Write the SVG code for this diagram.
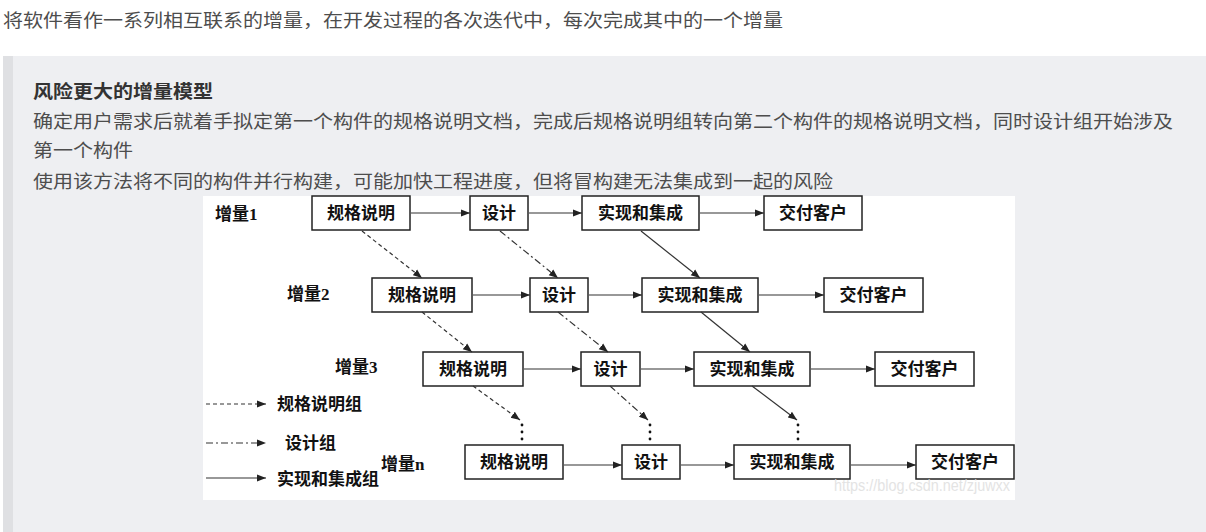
<svg xmlns="http://www.w3.org/2000/svg" width="1206" height="532" viewBox="0 0 1206 532">
<style>
.p{font-family:"Noto Sans CJK SC","Noto Sans",sans-serif;font-size:18px;fill:#4d4d4d}
.t{font-family:"Noto Sans CJK SC","Noto Sans",sans-serif;font-size:18px;font-weight:bold;fill:#333}
.box rect{fill:#fff;stroke:#222;stroke-width:1.5}
.box text,.lbl{font-family:"Liberation Serif","Noto Sans CJK SC",serif;font-size:17px;font-weight:bold;fill:#111;text-anchor:middle}
.lbl{text-anchor:start}
.c line{stroke:#333;stroke-width:1.2;fill:none}
.s{marker-end:url(#ah)}
.d{stroke-dasharray:4 3}
.dd{stroke-dasharray:7 3 2 3}
.dots circle{fill:#111}
</style>
<defs>
<marker id="ah" viewBox="0 0 10 10" refX="10" refY="5" markerWidth="9" markerHeight="9" markerUnits="userSpaceOnUse" orient="auto">
<path d="M0,1 L10,5 L0,9 z" fill="#222"/>
</marker>
</defs>
<rect width="1206" height="532" fill="#fff"/>
<text class="p" x="3" y="27" textLength="780" lengthAdjust="spacingAndGlyphs">将软件看作一系列相互联系的增量，在开发过程的各次迭代中，每次完成其中的一个增量</text>
<rect x="3" y="56" width="1203" height="476" fill="#eeeff2"/>
<rect x="3" y="56" width="10" height="476" fill="#dfe0e3"/>
<text class="t" x="33" y="98" textLength="180" lengthAdjust="spacingAndGlyphs">风险更大的增量模型</text>
<text class="p" x="33" y="128" textLength="1140" lengthAdjust="spacingAndGlyphs">确定用户需求后就着手拟定第一个构件的规格说明文档，完成后规格说明组转向第二个构件的规格说明文档，同时设计组开始涉及</text>
<text class="p" x="33" y="157" textLength="100" lengthAdjust="spacingAndGlyphs">第一个构件</text>
<text class="p" x="33" y="188" textLength="800" lengthAdjust="spacingAndGlyphs">使用该方法将不同的构件并行构建，可能加快工程进度，但将冒构建无法集成到一起的风险</text>
<rect x="203" y="196" width="812" height="304" fill="#fff"/>
<g id="labels">
<text class="lbl" x="215" y="220">增量1</text>
<text class="lbl" x="287" y="300">增量2</text>
<text class="lbl" x="335" y="373">增量3</text>
<text class="lbl" x="381" y="470">增量n</text>
</g>
<g id="r1-spec" class="box"><rect x="312" y="196" width="98" height="34"/><text x="361" y="219">规格说明</text></g>
<g id="r1-design" class="box"><rect x="470" y="196" width="58" height="34"/><text x="499" y="219">设计</text></g>
<g id="r1-impl" class="box"><rect x="582" y="196" width="117" height="34"/><text x="640.5" y="219">实现和集成</text></g>
<g id="r1-deliver" class="box"><rect x="764" y="196" width="98" height="34"/><text x="813" y="219">交付客户</text></g>
<g id="r2-spec" class="box"><rect x="372" y="278" width="100" height="34"/><text x="422" y="301">规格说明</text></g>
<g id="r2-design" class="box"><rect x="530" y="278" width="58" height="34"/><text x="559" y="301">设计</text></g>
<g id="r2-impl" class="box"><rect x="642" y="278" width="116" height="34"/><text x="700" y="301">实现和集成</text></g>
<g id="r2-deliver" class="box"><rect x="824" y="278" width="99" height="34"/><text x="873.5" y="301">交付客户</text></g>
<g id="r3-spec" class="box"><rect x="423" y="352" width="100" height="34"/><text x="473" y="375">规格说明</text></g>
<g id="r3-design" class="box"><rect x="581" y="352" width="59" height="34"/><text x="610.5" y="375">设计</text></g>
<g id="r3-impl" class="box"><rect x="694" y="352" width="116" height="34"/><text x="752" y="375">实现和集成</text></g>
<g id="r3-deliver" class="box"><rect x="875" y="352" width="99" height="34"/><text x="924.5" y="375">交付客户</text></g>
<g id="rn-spec" class="box"><rect x="465" y="445" width="98" height="34"/><text x="514" y="468">规格说明</text></g>
<g id="rn-design" class="box"><rect x="622" y="445" width="58" height="34"/><text x="651" y="468">设计</text></g>
<g id="rn-impl" class="box"><rect x="734" y="445" width="116" height="34"/><text x="792" y="468">实现和集成</text></g>
<g id="rn-deliver" class="box"><rect x="916" y="445" width="98" height="34"/><text x="965" y="468">交付客户</text></g>
<g id="connectors" class="c">
<line class="s" x1="411" y1="213" x2="470" y2="213"/>
<line class="s" x1="529" y1="213" x2="582" y2="213"/>
<line class="s" x1="700" y1="213" x2="764" y2="213"/>
<line class="s" x1="473" y1="295" x2="530" y2="295"/>
<line class="s" x1="589" y1="295" x2="642" y2="295"/>
<line class="s" x1="759" y1="295" x2="824" y2="295"/>
<line class="s" x1="524" y1="369" x2="581" y2="369"/>
<line class="s" x1="641" y1="369" x2="694" y2="369"/>
<line class="s" x1="811" y1="369" x2="875" y2="369"/>
<line class="s" x1="564" y1="465" x2="622" y2="465"/>
<line class="s" x1="681" y1="465" x2="734" y2="465"/>
<line class="s" x1="851" y1="465" x2="916" y2="465"/>
<line class="s d" x1="362" y1="231" x2="422" y2="278"/>
<line class="s dd" x1="500" y1="231" x2="558" y2="278"/>
<line class="s" x1="641" y1="231" x2="700" y2="278"/>
<line class="s d" x1="422" y1="312" x2="472" y2="352"/>
<line class="s dd" x1="558" y1="312" x2="608" y2="352"/>
<line class="s" x1="701" y1="312" x2="750" y2="352"/>
<line class="s d" x1="473" y1="386" x2="520" y2="420"/>
<line class="s dd" x1="610" y1="386" x2="648" y2="420"/>
<line class="s" x1="752" y1="386" x2="797" y2="420"/>
<line class="s d" x1="206" y1="404" x2="266" y2="404"/>
<line class="s dd" x1="206" y1="443" x2="266" y2="443"/>
<line class="s" x1="206" y1="478" x2="266" y2="478"/>
</g>
<g id="dots" class="dots">
<circle cx="522" cy="425" r="1.4"/><circle cx="522" cy="432" r="1.4"/><circle cx="522" cy="439" r="1.4"/>
<circle cx="650" cy="425" r="1.4"/><circle cx="650" cy="432" r="1.4"/><circle cx="650" cy="439" r="1.4"/>
<circle cx="798" cy="425" r="1.4"/><circle cx="798" cy="432" r="1.4"/><circle cx="798" cy="439" r="1.4"/>
</g>
<g id="legend">
<text class="lbl" x="277" y="410">规格说明组</text>
<text class="lbl" x="285" y="449">设计组</text>
<text class="lbl" x="277" y="485">实现和集成组</text>
</g>
<text x="834" y="491" font-family="Liberation Sans,sans-serif" font-size="16" fill="#ddd" opacity="0.8" textLength="176" lengthAdjust="spacingAndGlyphs">https://blog.csdn.net/zjuwxx</text>
</svg>
